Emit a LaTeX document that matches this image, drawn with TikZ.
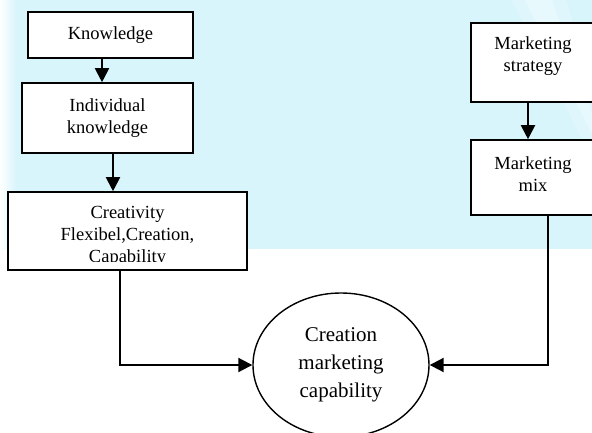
\documentclass[tikz,border=0pt]{standalone}
\usepackage{fontspec}
\setmainfont{Liberation Serif}
\usetikzlibrary{arrows.meta,shapes.geometric,positioning}
\definecolor{bgcyan}{RGB}{216,245,252}
\tikzstyle{box}=[draw,line width=1.6pt,fill=white,inner sep=0pt,align=center,font=\fontsize{18.5}{22}\selectfont]
\tikzstyle{boxtext}=[inner sep=0pt,align=center,font=\fontsize{18.5}{22}\selectfont]
\tikzstyle{goal}=[draw,ellipse,line width=1.4pt,fill=white,inner sep=0pt,align=center,font=\fontsize{21}{28}\selectfont]
\tikzstyle{edge}=[draw,line width=2pt,-{Triangle[length=14pt,width=14pt]}]

\begin{document}
\begin{tikzpicture}[x=1pt,y=-1pt]
    \useasboundingbox (0,0) rectangle (592,433);

    % background
    \fill[bgcyan] (0,0) rectangle (592,249);
    \shade[left color=white,right color=bgcyan] (0,0) rectangle (16,249);
    \fill[white,opacity=0.2] (512,0) -- (566,0) -- (600,110) -- (600,175) -- cycle;
    \fill[white,opacity=0.25] (525,0) -- (552,0) -- (600,135) -- (600,150) -- cycle;

    % boxes
    \node[box, minimum width=165pt, minimum height=46pt] (know) at (110.5,35) {Knowledge};
    \node[box, minimum width=171pt, minimum height=70pt] (indiv) at (107.5,118) {Individual\\knowledge};
    \node[box, minimum width=239pt, minimum height=78pt] (creat) at (127.5,231) {};
    \begin{scope}
        \clip (creat.north west) rectangle ([yshift=9pt]creat.south east);
        \node[boxtext] (creattext) at ([yshift=-5pt]creat.center) {Creativity\\Flexibel,Creation,\\Capability};
    \end{scope}

    \node[box, minimum width=124pt, minimum height=79pt] (strat) at (533,62.5) {};
    \node[boxtext] (strattext) at ([yshift=6pt]strat.center) {Marketing\\strategy};
    \node[box, minimum width=124pt, minimum height=75pt] (mix) at (533,177.5) {};
    \node[boxtext] (mixtext) at ([yshift=3.5pt]mix.center) {Marketing\\mix};

    \node[goal, minimum width=176pt, minimum height=144pt] (cap) at (341,365) {Creation\\marketing\\capability};

    % connectors
    \foreach \source/\sx/\dest/\dx in {know/-8.5/indiv/-5.5, indiv/5.5/creat/-14.5, strat/-5/mix/-5}
        \path[edge] ([xshift=\sx pt]\source.south) -- ([xshift=\dx pt]\dest.north);

    \path[edge] ([xshift=-7.5pt]creat.south) |- (cap.west);
    \path[edge] ([xshift=15pt]mix.south) |- (cap.east);

\end{tikzpicture}
\end{document}
